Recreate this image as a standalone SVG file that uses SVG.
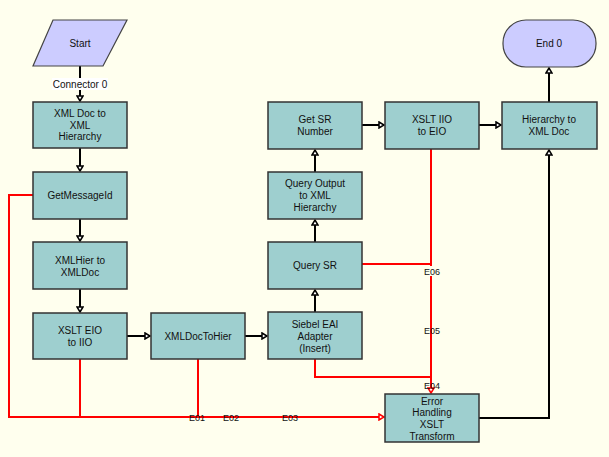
<svg xmlns="http://www.w3.org/2000/svg" width="609" height="457" viewBox="0 0 609 457">
<style>
text{font-family:"Liberation Sans",Arial,sans-serif;font-size:10px;fill:#111;text-anchor:middle}
.box{fill:#9ECFCF;stroke:#333;stroke-width:1.5}
.term{fill:#CCCCFF;stroke:#444;stroke-width:1.2}
.k{fill:none;stroke:#000;stroke-width:2}
.r{fill:none;stroke:#FF0000;stroke-width:2}
.lbl{font-size:9px}
.lb{fill:#FFFFEE}
</style>
<defs>
<marker id="ak" markerWidth="8" markerHeight="8" refX="6" refY="4" orient="auto" markerUnits="userSpaceOnUse">
<path d="M1,1 L6,4 L1,7 Z" fill="#fff" stroke="#000" stroke-width="1.5"/>
</marker>
<marker id="ar" markerWidth="8" markerHeight="8" refX="6" refY="4" orient="auto" markerUnits="userSpaceOnUse">
<path d="M1,1 L6,4 L1,7 Z" fill="#fff" stroke="#f00" stroke-width="1.5"/>
</marker>
</defs>
<rect width="609" height="457" fill="#FFFFEE"/>
<g id="connectors">
<path class="k" d="M80,66 V101" marker-end="url(#ak)"/>
<path class="k" d="M80,148 V171" marker-end="url(#ak)"/>
<path class="k" d="M80,219 V241" marker-end="url(#ak)"/>
<path class="k" d="M80,289 V312" marker-end="url(#ak)"/>
<path class="k" d="M127,336 H150" marker-end="url(#ak)"/>
<path class="k" d="M245,336 H267" marker-end="url(#ak)"/>
<path class="k" d="M315,312 V290" marker-end="url(#ak)"/>
<path class="k" d="M315,242 V220" marker-end="url(#ak)"/>
<path class="k" d="M315,172 V150" marker-end="url(#ak)"/>
<path class="k" d="M362,125 H384" marker-end="url(#ak)"/>
<path class="k" d="M479,125 H501" marker-end="url(#ak)"/>
<path class="k" d="M549,102 V68" marker-end="url(#ak)"/>
<path class="k" d="M479,418 H549 V150" marker-end="url(#ak)"/>
<path class="r" d="M33,195 H9 V417 H384" marker-end="url(#ar)"/>
<path class="r" d="M80,359 V417"/>
<path class="r" d="M198,359 V417"/>
<path class="r" d="M431,149 V393" marker-end="url(#ar)"/>
<path class="r" d="M362,264 H431"/>
<path class="r" d="M315,359 V377 H431"/>
<rect x="52" y="78" width="56" height="12" fill="#fff"/>
<text x="80" y="88">Connector 0</text>
<text class="lbl" x="197" y="421">E01</text>
<text class="lbl" x="231" y="421">E02</text>
<text class="lbl" x="290" y="421">E03</text>
<rect class="lb" x="422" y="266" width="20" height="10"/>
<text class="lbl" x="432" y="275">E06</text>
<text class="lbl" x="432" y="334">E05</text>
<text class="lbl" x="432" y="389">E04</text>
</g>
<g id="start"><path class="term" d="M53,20 H127 L103,66 H33 Z"/><text x="80" y="47">Start</text></g>
<g id="xmldoc2hier"><rect class="box" x="33" y="102" width="94" height="46"/><text x="80" y="117">XML Doc to</text><text x="80" y="129">XML</text><text x="80" y="140">Hierarchy</text></g>
<g id="getmessageid"><rect class="box" x="33" y="172" width="94" height="47"/><text x="80" y="199">GetMessageId</text></g>
<g id="xmlhier2xmldoc"><rect class="box" x="33" y="242" width="94" height="47"/><text x="80" y="264">XMLHier to</text><text x="80" y="276">XMLDoc</text></g>
<g id="xslteio2iio"><rect class="box" x="33" y="313" width="94" height="46"/><text x="80" y="334">XSLT EIO</text><text x="80" y="346">to IIO</text></g>
<g id="xmldoctohier"><rect class="box" x="151" y="313" width="94" height="46"/><text x="198" y="340">XMLDocToHier</text></g>
<g id="siebeleai"><rect class="box" x="268" y="312" width="94" height="47"/><text x="315" y="328">Siebel EAI</text><text x="315" y="340">Adapter</text><text x="315" y="352">(Insert)</text></g>
<g id="querysr"><rect class="box" x="268" y="242" width="94" height="47"/><text x="315" y="269">Query SR</text></g>
<g id="queryoutput"><rect class="box" x="268" y="172" width="94" height="47"/><text x="315" y="187">Query Output</text><text x="315" y="199">to XML</text><text x="315" y="211">Hierarchy</text></g>
<g id="getsrnumber"><rect class="box" x="268" y="102" width="94" height="47"/><text x="315" y="123">Get SR</text><text x="315" y="135">Number</text></g>
<g id="xsltiio2eio"><rect class="box" x="385" y="102" width="94" height="47"/><text x="432" y="123">XSLT IIO</text><text x="432" y="135">to EIO</text></g>
<g id="hier2xmldoc"><rect class="box" x="502" y="102" width="95" height="47"/><text x="549" y="123">Hierarchy to</text><text x="549" y="135">XML Doc</text></g>
<g id="end0"><rect class="term" x="503" y="20" width="93" height="47" rx="23" ry="23"/><text x="549" y="47">End 0</text></g>
<g id="errorhandling"><rect class="box" x="385" y="394" width="94" height="48"/><text x="432" y="405">Error</text><text x="432" y="416">Handling</text><text x="432" y="428">XSLT</text><text x="432" y="440">Transform</text></g>
</svg>
